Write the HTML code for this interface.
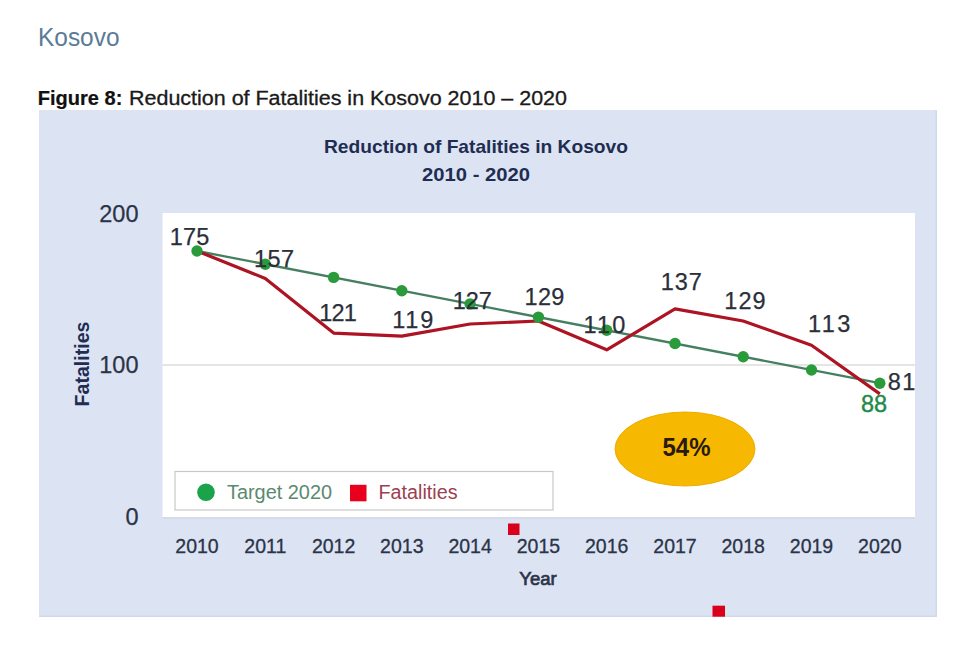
<!DOCTYPE html>
<html><head><meta charset="utf-8">
<style>
html,body{margin:0;padding:0;background:#fff;width:980px;height:666px;overflow:hidden}
svg{position:absolute;left:0;top:0;font-family:"Liberation Sans",sans-serif}
</style></head>
<body>
<svg width="980" height="666" viewBox="0 0 980 666">
  <!-- heading -->
  <text x="38" y="45.5" font-size="25.6" fill="#5a7b97" textLength="81.5" lengthAdjust="spacingAndGlyphs">Kosovo</text>
  <!-- figure caption -->
  <text x="37.8" y="105" font-size="19.5" font-weight="bold" fill="#111" stroke="#111" stroke-width="0.2" textLength="84.5" lengthAdjust="spacingAndGlyphs">Figure 8:</text>
  <text x="129" y="105" font-size="19.5" fill="#1a1a1a" stroke="#1a1a1a" stroke-width="0.3" textLength="438" lengthAdjust="spacingAndGlyphs">Reduction of Fatalities in Kosovo 2010 – 2020</text>

  <!-- chart background -->
  <rect x="39" y="110" width="898" height="507" fill="#dce3f3"/>
  <path d="M936.2 110 V616.2 H39" fill="none" stroke="#d2d9e6" stroke-width="1.6"/>
  <!-- plot area -->
  <rect x="162.5" y="213" width="752.5" height="304" fill="#ffffff"/>
  <line x1="162.5" y1="518" x2="915" y2="518" stroke="#d3d9e4" stroke-width="1.5"/>
  <!-- gridline 100 -->
  <line x1="162.5" y1="365" x2="915" y2="365" stroke="#dcdcdc" stroke-width="1.3"/>

  <!-- title -->
  <text x="476" y="153" font-size="19" font-weight="bold" fill="#1f2d52" text-anchor="middle" textLength="304" lengthAdjust="spacingAndGlyphs">Reduction of Fatalities in Kosovo</text>
  <text x="476" y="180.5" font-size="19" font-weight="bold" fill="#1f2d52" text-anchor="middle" textLength="108" lengthAdjust="spacingAndGlyphs">2010 - 2020</text>

  <!-- y axis labels -->
  <g font-size="23.5" fill="#2b3447" stroke="#2b3447" stroke-width="0.25" text-anchor="end">
    <text x="138.5" y="221.5">200</text>
    <text x="138.5" y="372.5">100</text>
    <text x="138.5" y="524.5">0</text>
  </g>
  <!-- y axis title -->
  <text transform="translate(88.5,364) rotate(-90)" x="0" y="0" font-size="21" font-weight="bold" fill="#1f2d52" text-anchor="middle" textLength="85" lengthAdjust="spacingAndGlyphs">Fatalities</text>

  <!-- x axis labels -->
  <g font-size="19.5" fill="#2b3447" stroke="#2b3447" stroke-width="0.3" text-anchor="middle">
    <text x="197" y="552.5">2010</text>
    <text x="265.3" y="552.5">2011</text>
    <text x="333.6" y="552.5">2012</text>
    <text x="401.8" y="552.5">2013</text>
    <text x="470.1" y="552.5">2014</text>
    <text x="538.4" y="552.5">2015</text>
    <text x="606.7" y="552.5">2016</text>
    <text x="675" y="552.5">2017</text>
    <text x="743.2" y="552.5">2018</text>
    <text x="811.5" y="552.5">2019</text>
    <text x="879.8" y="552.5">2020</text>
  </g>
  <text x="538" y="585" font-size="18.5" fill="#2b3447" stroke="#2b3447" stroke-width="0.7" text-anchor="middle">Year</text>

  <!-- legend -->
  <rect x="175" y="471.5" width="378" height="38.5" fill="#fff" stroke="#c8c8c8" stroke-width="1.2"/>
  <circle cx="206" cy="492.3" r="8.8" fill="#1aa34a"/>
  <text x="227" y="499" font-size="20" fill="#5a8a70" textLength="105" lengthAdjust="spacingAndGlyphs">Target 2020</text>
  <rect x="350" y="484.8" width="16.5" height="16.5" fill="#e8001c"/>
  <text x="378.5" y="499" font-size="20" fill="#9c4050" textLength="79" lengthAdjust="spacingAndGlyphs">Fatalities</text>

  <!-- small red squares -->
  <rect x="508" y="523.5" width="11.5" height="11.5" fill="#d9001c"/>
  <rect x="712.5" y="605.7" width="12.5" height="11" fill="#d9001c"/>

  <!-- ellipse -->
  <ellipse cx="685" cy="449" rx="70" ry="37" fill="#f6b800" stroke="#ecae00" stroke-width="1"/>
  <text x="686.5" y="455.8" font-size="25" font-weight="bold" fill="#2a1a10" text-anchor="middle" textLength="48" lengthAdjust="spacingAndGlyphs">54%</text>

  <!-- green target line -->
  <polyline fill="none" stroke="#467f60" stroke-width="2.3"
    points="197,251 879.8,383.2"/>
  <!-- red fatalities line -->
  <polyline fill="none" stroke="#ad1322" stroke-width="3.2" stroke-linejoin="round"
    points="197,251 265.3,278.4 333.6,333.1 401.8,336.1 470.1,324 538.4,321 606.7,349.8 675,308.8 743.2,321 811.5,345.2 879.8,393.9"/>
  <g fill="#2a9b3b">
    <circle cx="197" cy="251" r="5.7"/>
    <circle cx="265.3" cy="264.2" r="5.7"/>
    <circle cx="333.6" cy="277.4" r="5.7"/>
    <circle cx="401.8" cy="290.7" r="5.7"/>
    <circle cx="470.1" cy="303.9" r="5.7"/>
    <circle cx="538.4" cy="317.1" r="5.7"/>
    <circle cx="606.7" cy="330.3" r="5.7"/>
    <circle cx="675" cy="343.5" r="5.7"/>
    <circle cx="743.2" cy="356.7" r="5.7"/>
    <circle cx="811.5" cy="370" r="5.7"/>
    <circle cx="879.8" cy="383.2" r="5.7"/>
  </g>

  <!-- data labels -->
  <g font-size="23.5" fill="#2a2f3a" stroke="#2a2f3a" stroke-width="0.25" text-anchor="middle">
    <text x="189.50" y="244.90" textLength="39.60" lengthAdjust="spacing">175</text>
    <text x="274.00" y="266.90" textLength="40.20" lengthAdjust="spacing">157</text>
    <text x="338.00" y="321.10" textLength="37.60" lengthAdjust="spacing">121</text>
    <text x="412.75" y="328.00" textLength="41.00" lengthAdjust="spacing">119</text>
    <text x="472.25" y="308.90" textLength="39.20" lengthAdjust="spacing">127</text>
    <text x="544.50" y="305.10" textLength="39.80" lengthAdjust="spacing">129</text>
    <text x="604.50" y="332.50" textLength="41.80" lengthAdjust="spacing">110</text>
    <text x="681.25" y="289.70" textLength="41.20" lengthAdjust="spacing">137</text>
    <text x="745.00" y="308.50" textLength="41.40" lengthAdjust="spacing">129</text>
    <text x="829.25" y="332.00" textLength="42.40" lengthAdjust="spacing">113</text>
    <text x="901.50" y="390.30" textLength="27.70" lengthAdjust="spacing">81</text>
  </g>
  <text x="874" y="412" font-size="23.5" fill="#1f8a4a" stroke="#1f8a4a" stroke-width="0.4" text-anchor="middle">88</text>
</svg>
</body></html>
